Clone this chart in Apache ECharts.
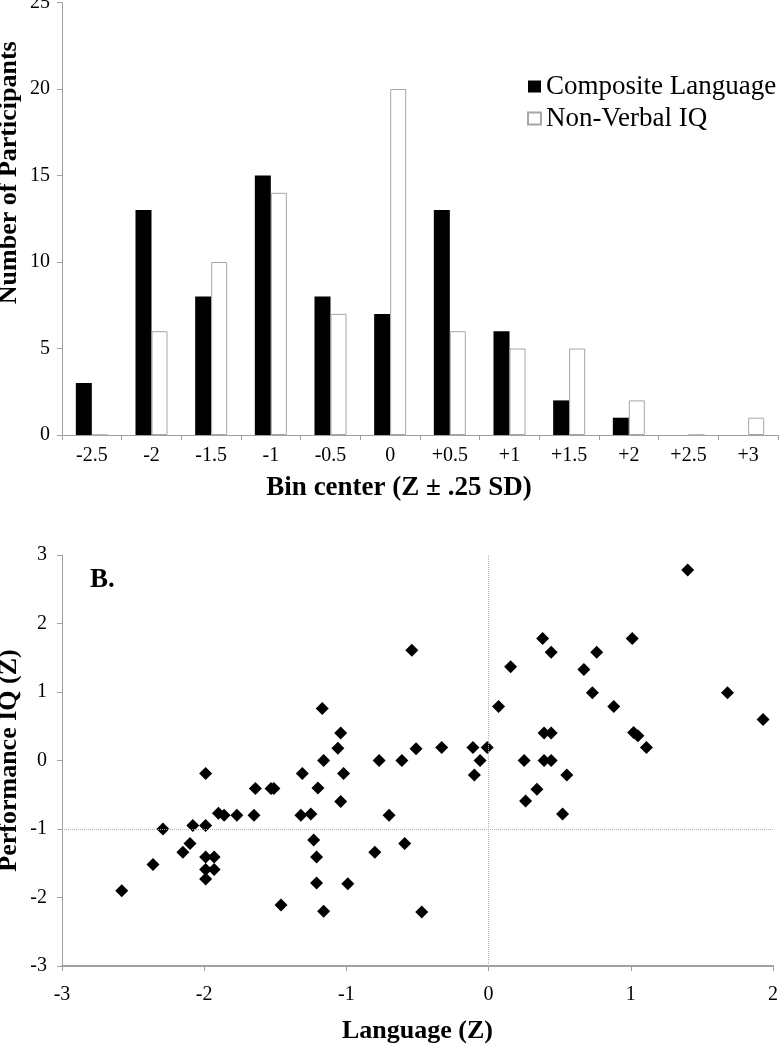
<!DOCTYPE html>
<html>
<head>
<meta charset="utf-8">
<script src="https://cdn.jsdelivr.net/npm/echarts@6/dist/echarts.min.js"></script>
<style>
  html, body { margin: 0; padding: 0; background: #fff; }
  #chart { width: 781px; height: 1050px; }
</style>
</head>
<body>
<div id="chart"></div>
<script>
// histogram (top panel)
const binLabels = ['-2.5', '-2', '-1.5', '-1', '-0.5', '0', '+0.5', '+1', '+1.5', '+2', '+2.5', '+3'];
const languageCounts = [3, 13, 8, 15, 8, 7, 13, 6, 2, 1, 0, 0];
const iqCounts = [0, 6, 10, 14, 7, 20, 6, 5, 5, 2, 0, 1];

// scatter (panel B): one entry per participant
const languageZ = [
  -2.58, -2.36, -2.29, -2.15, -2.10, -2.08, -1.99, -1.99, -1.93, -1.99,
  -1.93, -1.99, -1.99, -1.90, -1.86, -1.77, -1.65, -1.64, -1.53, -1.51,
  -1.46, -1.31, -1.32, -1.25, -1.20, -1.23, -1.21, -1.21, -1.16, -1.17,
  -1.16, -1.06, -1.04, -1.02, -1.04, -0.99, -0.80, -0.77, -0.70, -0.59,
  -0.61, -0.47, -0.54, -0.51, -0.33, -0.11, -0.10, -0.06, -0.01, 0.07,
  0.155, 0.25, 0.26, 0.34, 0.38, 0.44, 0.39, 0.44, 0.39, 0.44,
  0.55, 0.52, 0.67, 0.73, 0.76, 0.88, 1.01, 1.02, 1.05, 1.11,
  1.40, 1.68, 1.93
];
const performanceIQZ = [
  -1.90, -1.52, -1.00, -1.34, -1.21, -0.95, -0.95, -1.41, -1.41, -1.59,
  -1.59, -1.73, -0.19, -0.77, -0.80, -0.80, -0.80, -0.41, -0.41, -0.41,
  -2.11, -0.19, -0.80, -0.78, -0.40, -1.16, -1.41, -1.79, -2.20, 0.76,
  0.00, 0.18, 0.40, -0.19, -0.60, -1.80, -1.34, 0.00, -0.80, -1.21,
  0.00, -2.21, 1.61, 0.17, 0.19, 0.19, -0.21, 0.00, 0.19, 0.79,
  1.37, 0.00, -0.59, -0.42, 1.78, 1.58, 0.40, 0.40, 0.00, 0.00,
  -0.21, -0.78, 1.33, 0.99, 1.58, 0.79, 1.78, 0.41, 0.36, 0.19,
  2.78, 0.99, 0.60
];

const scatterData = languageZ.map((x, i) => [x, performanceIQZ[i]]);

const axisGray = '#a0a0a0';
const serif = '"Liberation Serif", "Times New Roman", serif';

const myChart = echarts.init(document.getElementById('chart'));

myChart.setOption({
  animation: false,
  textStyle: { fontFamily: serif, color: '#000' },
  grid: [
    { left: 62, right: 3, top: 2.5, bottom: 615, outerBoundsMode: 'none' },
    { left: 62, right: 8, top: 555, bottom: 84, outerBoundsMode: 'none' }
  ],
  legend: {
    orient: 'vertical',
    left: 522,
    top: 60,
    icon: 'rect',
    itemWidth: 13,
    itemHeight: 12,
    itemGap: -11,
    data: ['Composite Language', 'Non-Verbal IQ'],
    textStyle: { fontFamily: serif, fontSize: 27, color: '#000', lineHeight: 27, padding: [16, 0, 0, 0] }
  },
  graphic: [
    {
      type: 'text',
      left: 90,
      top: 567,
      style: { text: 'B.', font: 'bold 27px ' + serif, fill: '#000' }
    }
  ],
  xAxis: [
    {
      gridIndex: 0,
      type: 'category',
      data: binLabels,
      axisLine: { show: true, lineStyle: { color: axisGray, width: 1 } },
      axisTick: { show: true, length: 5, interval: 0, lineStyle: { color: axisGray } },
      axisLabel: { interval: 0, fontSize: 20, margin: 11, color: '#000', fontFamily: serif },
      splitLine: { show: false },
      name: 'Bin center (Z ± .25 SD)',
      nameLocation: 'middle',
      nameGap: 40,
      nameMoveOverlap: false,
      nameTextStyle: { fontFamily: serif, fontSize: 27, fontWeight: 'bold', color: '#000', padding: [0, 42, 0, 0] }
    },
    {
      gridIndex: 1,
      type: 'value',
      min: -3,
      max: 2,
      interval: 1,
      axisLine: { show: true, onZero: false, lineStyle: { color: axisGray, width: 2 } },
      axisTick: { show: true, length: 5, lineStyle: { color: axisGray } },
      axisLabel: { fontSize: 20, margin: 19, color: '#000', fontFamily: serif, showMinLabel: true, showMaxLabel: true },
      splitLine: { show: false },
      name: 'Language (Z)',
      nameLocation: 'middle',
      nameGap: 52,
      nameMoveOverlap: false,
      nameTextStyle: { fontFamily: serif, fontSize: 26, fontWeight: 'bold', color: '#000' }
    }
  ],
  yAxis: [
    {
      gridIndex: 0,
      type: 'value',
      min: 0,
      max: 25,
      interval: 5,
      axisLine: { show: true, lineStyle: { color: axisGray, width: 1 } },
      axisTick: { show: true, length: 5, lineStyle: { color: axisGray } },
      axisLabel: { fontSize: 20, margin: 12, color: '#000', fontFamily: serif, showMinLabel: true, showMaxLabel: true },
      splitLine: { show: false },
      name: 'Number of Participants',
      nameLocation: 'middle',
      nameGap: 40,
      nameMoveOverlap: false,
      nameTextStyle: { fontFamily: serif, fontSize: 26, fontWeight: 'bold', color: '#000', padding: [0, 0, 0, 92] }
    },
    {
      gridIndex: 1,
      type: 'value',
      min: -3,
      max: 3,
      interval: 1,
      axisLine: { show: true, onZero: false, lineStyle: { color: axisGray, width: 1 } },
      axisTick: { show: true, length: 5, lineStyle: { color: axisGray } },
      axisLabel: { fontSize: 20, margin: 15, color: '#000', fontFamily: serif, showMinLabel: true, showMaxLabel: true },
      splitLine: { show: false },
      name: 'Performance IQ (Z)',
      nameLocation: 'middle',
      nameGap: 40,
      nameMoveOverlap: false,
      nameTextStyle: { fontFamily: serif, fontSize: 26, fontWeight: 'bold', color: '#000' }
    }
  ],
  series: [
    {
      name: 'Composite Language',
      type: 'bar',
      xAxisIndex: 0,
      yAxisIndex: 0,
      data: languageCounts,
      barWidth: 16,
      barGap: '0%',
      itemStyle: { color: '#000' }
    },
    {
      name: 'Non-Verbal IQ',
      type: 'bar',
      xAxisIndex: 0,
      yAxisIndex: 0,
      data: iqCounts,
      barWidth: 16,
      barGap: '0%',
      itemStyle: { color: '#fff', borderColor: '#a6a6a6', borderWidth: 1 }
    },
    {
      name: 'Participants',
      type: 'scatter',
      xAxisIndex: 1,
      yAxisIndex: 1,
      data: scatterData,
      symbol: 'diamond',
      symbolSize: 13,
      itemStyle: { color: '#000', opacity: 1 },
      markLine: {
        silent: true,
        symbol: ['none', 'none'],
        label: { show: false },
        lineStyle: { color: '#b0b0b0', type: 'dotted', width: 1 },
        data: [{ xAxis: 0 }, { yAxis: -1 }]
      }
    }
  ]
});
</script>
</body>
</html>
